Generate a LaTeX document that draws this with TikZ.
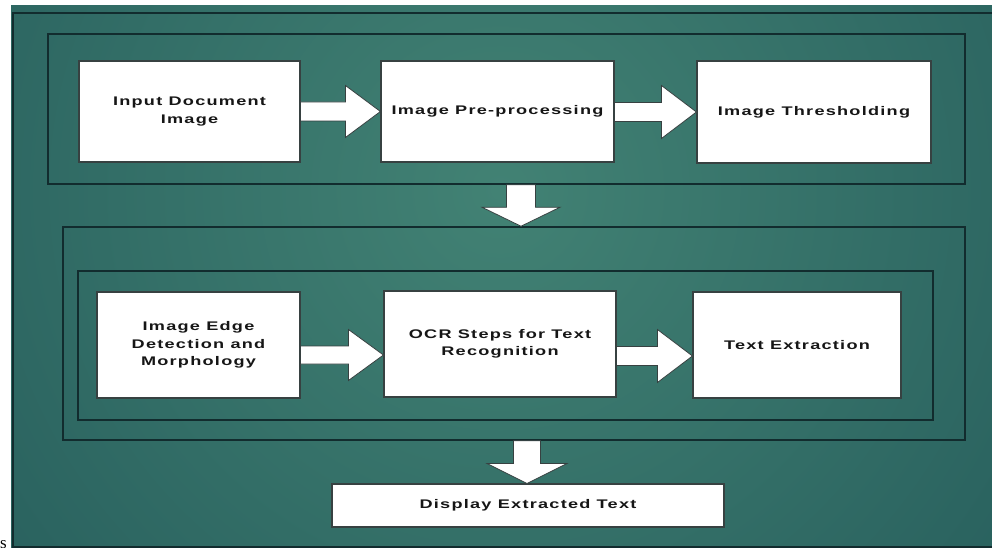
\documentclass[tikz,border=0pt]{standalone}
\usepackage{fontspec}
\setmainfont{Liberation Sans}
\newfontfamily\boxfont{Liberation Sans}[FakeStretch=1.45,LetterSpace=10]
\newfontfamily\serifs{Liberation Serif}
\usetikzlibrary{calc}
\definecolor{bgin}{RGB}{66,130,116}
\definecolor{bgout}{RGB}{28,80,83}
\definecolor{groupline}{RGB}{18,44,46}
\definecolor{boxline}{RGB}{55,65,65}
\definecolor{txt}{RGB}{22,22,22}
\tikzset{
  stepbox/.style={draw=boxline, line width=1.1pt, fill=white, inner sep=2pt,
    align=center, text=txt, font=\boxfont\bfseries\fontsize{12.5}{17.5}\selectfont},
  groupbox/.style={draw=groupline, line width=1.5pt, inner sep=0pt},
  blockarrow/.style={draw=boxline, line width=0.8pt, fill=white, line join=miter},
}
% horizontal block arrow: from, to, dy (down), half shaft, half head, head length
\newcommand\harrow[6]{%
  \coordinate (hat) at ($(#2.west)+(0,-#3)$);
  \draw[blockarrow] let \p1=(#1.east), \p2=(hat) in
    (\x1,\y2+#4) -- (\x2-#6,\y2+#4) -- (\x2-#6,\y2+#5) -- (\x2,\y2)
    -- (\x2-#6,\y2-#5) -- (\x2-#6,\y2-#4) -- (\x1,\y2-#4) -- cycle;}
% vertical block arrow: from, to, x, half shaft, half head, head length
\newcommand\varrow[6]{%
  \draw[blockarrow] let \p1=(#1.south), \p2=(#2.north) in
    (#3-#4,\y1) -- (#3-#4,\y2+#6) -- (#3-#5,\y2+#6) -- (#3,\y2)
    -- (#3+#5,\y2+#6) -- (#3+#4,\y2+#6) -- (#3+#4,\y1) -- cycle;}
\begin{document}
\begin{tikzpicture}[x=1pt,y=-1pt]
\useasboundingbox (0,0) rectangle (992,548);
\clip (0,0) rectangle (992,548);
\fill[white] (0,0) rectangle (992,548);
% background
\begin{scope}
  \clip (11,6) rectangle (992,548);
  \shade[inner color=bgin, outer color=bgout] (500,190) circle (960);
\end{scope}
\draw[groupline, line width=1.5pt] (13,13) rectangle (1000,547);
% groups
\node[groupbox, minimum width=917pt, minimum height=150pt] (g1) at (506.5,109) {};
\node[groupbox, minimum width=902pt, minimum height=213pt] (g2o) at (514,333.5) {};
\node[groupbox, minimum width=855pt, minimum height=149pt] (g2i) at (505.5,345.5) {};
% steps
\node[stepbox, minimum width=221pt, minimum height=101pt] (in) at (189.5,111.5) {Input Document\\Image};
\node[stepbox, minimum width=233pt, minimum height=101pt] (pre) at (497.5,111.5) {Image Pre-processing};
\node[stepbox, minimum width=234pt, minimum height=102pt] (thr) at (814,112) {Image Thresholding};
\node[stepbox, minimum width=203pt, minimum height=106pt] (edge) at (198.5,345) {Image Edge\\Detection and\\Morphology};
\node[stepbox, minimum width=232pt, minimum height=106pt] (ocr) at (500,344) {OCR Steps for Text\\Recognition};
\node[stepbox, minimum width=208pt, minimum height=106pt] (ext) at (797,345) {Text Extraction};
\node[stepbox, minimum width=392pt, minimum height=43pt] (disp) at (528,505.5) {Display Extracted Text};
% arrows
\harrow{in}{pre}{0pt}{9.5pt}{26pt}{35pt}
\harrow{pre}{thr}{0pt}{9.5pt}{26.5pt}{35pt}
\harrow{edge}{ocr}{11pt}{9pt}{25.5pt}{35pt}
\harrow{ocr}{ext}{11pt}{9.5pt}{26.5pt}{35pt}
\varrow{g1}{g2o}{521pt}{14.5pt}{39pt}{19pt}
\varrow{g2o}{disp}{527pt}{13.5pt}{40pt}{20pt}
% stray glyph
\node[anchor=base west, inner sep=0pt, font=\serifs\fontsize{17}{17}\selectfont] (s) at (0,548) {s};
\end{tikzpicture}
\end{document}
